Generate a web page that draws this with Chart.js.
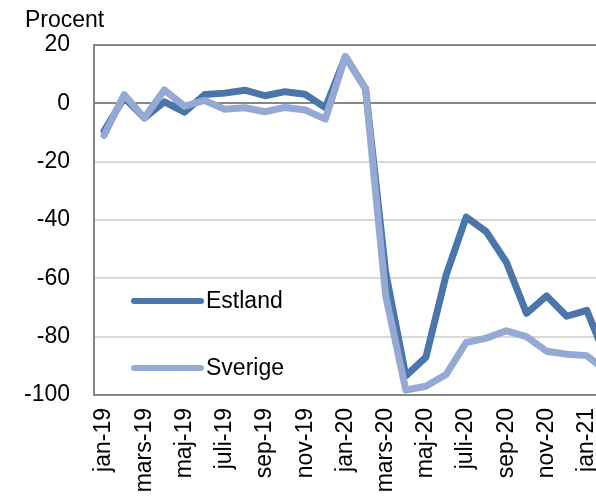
<!DOCTYPE html>
<html>
<head>
<meta charset="utf-8">
<script src="https://cdn.jsdelivr.net/npm/chart.js@4/dist/chart.umd.min.js"></script>
<style>
  html, body { margin: 0; padding: 0; width: 596px; height: 496px; overflow: hidden; background: #fff; }
  #wrap { position: absolute; left: 0; top: 0; width: 648px; height: 496px; }
</style>
</head>
<body>
<div id="wrap"><canvas id="c"></canvas></div>
<script>
const months = ['jan-19','feb-19','mars-19','april-19','maj-19','juni-19','juli-19','aug-19','sep-19','okt-19','nov-19','dec-19',
                'jan-20','feb-20','mars-20','april-20','maj-20','juni-20','juli-20','aug-20','sep-20','okt-20','nov-20','dec-20',
                'jan-21','feb-21'];
const estland = [-9.5, 2, -5, 0.5, -3, 3, 3.5, 4.5, 2.6, 4, 3.1, -1.5, 16, 5, -58, -93.5, -87, -59, -39, -44, -54.5, -72, -66, -73, -71, -88];
const sverige = [-11, 3, -5, 4.6, -1, 1, -2, -1.5, -2.9, -1.4, -2.3, -5.4, 16, 5, -66, -98.3, -97, -93, -82, -80.5, -78, -80, -85, -86, -86.5, -92];
const yTicks = [20, 0, -20, -40, -60, -80, -100];
const yTitle = 'Procent';

const FONT = "'Liberation Sans', Arial, sans-serif";

const overlay = {
  id: 'overlay',
  afterDraw(chart) {
    const ctx = chart.ctx;
    const a = chart.chartArea;
    ctx.save();
    ctx.fillStyle = '#000';
    ctx.font = '23px ' + FONT;
    ctx.textBaseline = 'alphabetic';
    ctx.textAlign = 'left';
    ctx.fillText(yTitle, 25, 27);
    const rows = [{ds: chart.data.datasets[0], y: 301}, {ds: chart.data.datasets[1], y: 368}];
    rows.forEach(r => {
      ctx.strokeStyle = r.ds.borderColor;
      ctx.lineWidth = 6;
      ctx.lineCap = 'round';
      ctx.beginPath();
      ctx.moveTo(a.left + 40, r.y);
      ctx.lineTo(a.left + 107, r.y);
      ctx.stroke();
      ctx.fillStyle = '#000';
      ctx.textBaseline = 'middle';
      ctx.fillText(r.ds.label, a.left + 112, r.y + 1);
    });
    ctx.restore();
  }
};

new Chart(document.getElementById('c'), {
  type: 'line',
  data: {
    labels: months,
    datasets: [
      { label: 'Estland', data: estland, borderColor: '#4A76AB', borderWidth: 7, order: 1 },
      { label: 'Sverige', data: sverige, borderColor: '#94AAD4', borderWidth: 7, order: 0 }
    ]
  },
  options: {
    responsive: true,
    maintainAspectRatio: false,
    animation: false,
    layout: { padding: { top: 45, left: 0, right: 23, bottom: 0 } },
    elements: {
      point: { radius: 0, hoverRadius: 0 },
      line: { tension: 0, borderJoinStyle: 'round', borderCapStyle: 'round' }
    },
    plugins: { legend: { display: false }, tooltip: { enabled: false }, title: { display: false } },
    scales: {
      x: {
        type: 'category',
        offset: true,
        grid: { display: false, drawTicks: false },
        border: { display: true, color: '#878787', width: 2 },
        ticks: {
          autoSkip: false,
          maxRotation: 90,
          minRotation: 90,
          padding: 13,
          color: '#000',
          font: { family: FONT, size: 23 },
          callback: function(v, i) { return i % 2 === 0 ? months[i] : ''; }
        },
        afterFit: s => { s.height = 101; }
      },
      y: {
        min: -100,
        max: 20,
        afterBuildTicks: s => { s.ticks = yTicks.map(v => ({ value: v })); },
        grid: {
          drawTicks: false,
          lineWidth: 2,
          color: c => (c.tick && (c.tick.value === 0 || c.tick.value === 20)) ? '#878787' : '#D9D9D9'
        },
        border: { display: true, color: '#878787', width: 2 },
        ticks: {
          padding: 24,
          color: '#000',
          font: { family: FONT, size: 23 }
        },
        afterFit: s => { s.width = 94; }
      }
    }
  },
  plugins: [overlay]
});
</script>
</body>
</html>
